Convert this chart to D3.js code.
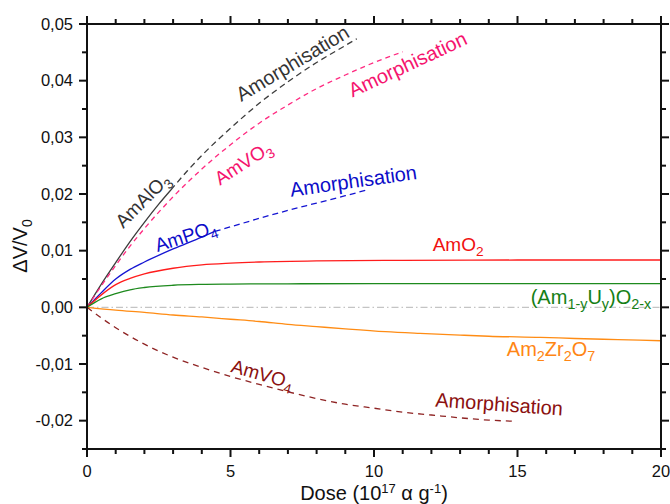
<!DOCTYPE html>
<html lang="en">
<head>
<meta charset="UTF-8">
<title>Swelling vs dose</title>
<script src="https://d3js.org/d3.v7.min.js"></script>
</head>
<body style="margin:0">
<svg width="670" height="504"></svg>
<script>
    // curves: [dose, dV/V0]
    const amAlO3Solid  = [[0,0],[0.5,0.0041],[1,0.0079],[1.5,0.0116],[2,0.0150],[2.5,0.0182],[2.92,0.0207]];
    const amAlO3Dashed = [[2.92,0.0207],[3.5,0.0241],[4,0.0268],[5,0.0316],[6,0.0360],[7,0.0398],[8,0.0432],[9,0.0462],[9.4,0.0474]];
    const amVO3Dashed  = [[0,0],[0.5,0.0038],[1,0.0074],[1.5,0.0108],[2,0.0139],[3,0.0195],[4,0.0244],[5,0.0287],[6,0.0325],[7,0.0357],[8,0.0386],[9,0.0410],[10,0.0432],[11,0.0451]];
    const amPO4Solid   = [[0,0],[0.5,0.0026],[1,0.0050],[1.5,0.0067],[2,0.0080],[3,0.0103],[4,0.0124],[4.45,0.0134]];
    const amPO4Dashed  = [[4.45,0.0134],[5,0.0142],[6,0.0157],[7,0.0171],[8,0.0184],[9,0.0197],[9.75,0.0207]];
    const amO2         = [[0,0],[0.5,0.0022],[1,0.0040],[1.5,0.0051],[2,0.0059],[3,0.0069],[4,0.0075],[5,0.0078],[6,0.0080],[8,0.0082],[11,0.0083],[15,0.00835],[20,0.00835]];
    const amUO2        = [[0,0],[0.5,0.0015],[1,0.0024],[1.5,0.0031],[2,0.0035],[3,0.0039],[4,0.00405],[5,0.0041],[7,0.00415],[10,0.0042],[20,0.0042]];
    const am2Zr2O7     = [[0,0],[1,-0.0005],[2,-0.0009],[3,-0.00135],[4,-0.0017],[5,-0.0021],[6,-0.0025],[7,-0.0030],[8,-0.0034],[9,-0.0038],[10.4,-0.0043],[11.6,-0.0046],[13,-0.0049],[14,-0.0051],[15.8,-0.0053],[17,-0.0055],[18.5,-0.0057],[20,-0.0059]];
    const amVO4Dashed  = [[0,0],[1,-0.0036],[2,-0.0065],[3,-0.0088],[4,-0.0106],[5,-0.0122],[6,-0.0136],[7,-0.0149],[8,-0.0161],[9,-0.0171],[10,-0.0178],[11,-0.0185],[12,-0.0190],[13,-0.0195],[14,-0.0199],[14.85,-0.0201]];
    const zeroLine     = [[0,0],[20,0]];

    const xTicks = [0, 5, 10, 15, 20];
    const yTicks = [-0.02, -0.01, 0, 0.01, 0.02, 0.03, 0.04, 0.05];

    const series = [
        {data: amAlO3Solid,  color: "#3c3c3c", dash: null},
        {data: amAlO3Dashed, color: "#3c3c3c", dash: "6,4"},
        {data: amVO3Dashed,  color: "#ff2a80", dash: "5,4"},
        {data: amPO4Solid,   color: "#1414d2", dash: null},
        {data: amPO4Dashed,  color: "#1414d2", dash: "6,4"},
        {data: amO2,         color: "#ff1c1c", dash: null},
        {data: amUO2,        color: "#1e8a1e", dash: null},
        {data: am2Zr2O7,     color: "#ff8c14", dash: null},
        {data: amVO4Dashed,  color: "#8f2424", dash: "6,5"}
    ];

    // text labels: position in data units, rotation, colour, pieces
    const labels = [
        {x: 1.93,  y: 0.0189,   rot: -45, size: 19, color: "#333333", parts: [["AmAlO"],["3","sub"]]},
        {x: 7.16,  y: 0.0431,   rot: -31, size: 20, color: "#333333", parts: [["Amorphisation"]]},
        {x: 5.44,  y: 0.0255,   rot: -33, size: 19, color: "#f5146e", parts: [["AmVO"],["3","sub"]]},
        {x: 11.17, y: 0.0429,   rot: -25, size: 20, color: "#f5146e", parts: [["Amorphisation"]]},
        {x: 3.44,  y: 0.0126,   rot: -18, size: 19, color: "#0c0cc8", parts: [["AmPO"],["4","sub"]]},
        {x: 9.28,  y: 0.0223,   rot: -8,  size: 20, color: "#0c0cc8", parts: [["Amorphisation"]]},
        {x: 12.93, y: 0.0112,   rot: 0,   size: 19, color: "#f01010", parts: [["AmO"],["2","sub"]]},
        {x: 17.56, y: 0.0019,   rot: 0,   size: 20, color: "#167f16", parts: [["(Am"],["1-y","sub"],["U"],["y","sub"],[")O"],["2-x","sub"]]},
        {x: 16.17, y: -0.0074,  rot: 0,   size: 20, color: "#ff8614", parts: [["Am"],["2","sub"],["Zr"],["2","sub"],["O"],["7","sub"]]},
        {x: 6.11,  y: -0.01177, rot: 16,  size: 19, color: "#8b1010", parts: [["AmVO"],["4","sub"]]},
        {x: 14.36, y: -0.01706, rot: 4,   size: 20, color: "#8b1010", parts: [["Amorphisation"]]}
    ];

    const FONT = "Liberation Sans, Arial, sans-serif";
    const svg = d3.select("svg");
    const margin = {top: 24, right: 9, bottom: 55, left: 87};

    // scales in page pixels
    const x = d3.scaleLinear().domain([0, 20]).range([margin.left, 670 - margin.right]);
    const y = d3.scaleLinear().domain([-0.025, 0.05]).range([504 - margin.bottom, margin.top]);
    const [x0, x1] = x.range();
    const [yb, yt0] = y.range();

    const fmt = d => d3.format(".2f")(d).replace(".", ",").replace("\u2212", "-");
    const minorX = d3.range(0, 21, 1);
    const minorY = d3.range(-25, 51, 5).map(v => v / 1000);
    const isMajX = d => xTicks.includes(d);
    const isMajY = d => yTicks.some(t => Math.abs(t - d) < 1e-9);
    const tickLen = maj => maj ? 8 : 5;

    // zero reference
    svg.append("path")
        .datum(zeroLine)
        .attr("d", d3.line().x(d => x(d[0])).y(d => y(d[1])))
        .attr("fill", "none")
        .attr("stroke", "#c4c4c4")
        .attr("stroke-width", 1.1)
        .attr("stroke-dasharray", "7,3,1.5,3");

    const line = d3.line().x(d => x(d[0])).y(d => y(d[1])).curve(d3.curveMonotoneX);

    svg.selectAll("path.curve")
        .data(series)
        .join("path").attr("class", "curve")
            .attr("d", d => line(d.data))
            .attr("fill", "none")
            .attr("stroke", d => d.color)
            .attr("stroke-width", 1.3)
            .attr("stroke-dasharray", d => d.dash);

    // frame
    svg.append("path")
        .attr("d", `M${x0},${yt0}H${x1}V${yb}H${x0}Z`)
        .attr("fill", "none").attr("stroke", "#111").attr("stroke-width", 2);

    // tick marks, outward on all four sides
    svg.selectAll("rect.bt").data(minorX).join("rect").attr("class", "bt")
        .attr("x", d => x(d) - 1).attr("y", yb).attr("width", 2)
        .attr("height", d => tickLen(isMajX(d))).attr("fill", "#111");
    svg.selectAll("rect.tt").data(minorX).join("rect").attr("class", "tt")
        .attr("x", d => x(d) - 1).attr("y", d => yt0 - tickLen(isMajX(d))).attr("width", 2)
        .attr("height", d => tickLen(isMajX(d))).attr("fill", "#111");
    svg.selectAll("rect.lt").data(minorY).join("rect").attr("class", "lt")
        .attr("x", d => x0 - tickLen(isMajY(d))).attr("y", d => y(d) - 1)
        .attr("width", d => tickLen(isMajY(d))).attr("height", 2).attr("fill", "#111");
    svg.selectAll("rect.rt").data(minorY).join("rect").attr("class", "rt")
        .attr("x", x1).attr("y", d => y(d) - 1)
        .attr("width", d => tickLen(isMajY(d))).attr("height", 2).attr("fill", "#111");

    // tick labels
    svg.selectAll("text.xl").data(xTicks).join("text").attr("class", "xl")
        .attr("x", d => x(d)).attr("y", yb + 28)
        .attr("text-anchor", "middle")
        .attr("font-family", FONT).attr("font-size", "16.5px").attr("fill", "#111")
        .text(d3.format("d"));
    svg.selectAll("text.yl").data(yTicks).join("text").attr("class", "yl")
        .attr("x", x0 - 14).attr("y", d => y(d)).attr("dy", "0.35em")
        .attr("text-anchor", "end")
        .attr("font-family", FONT).attr("font-size", "16.5px").attr("fill", "#111")
        .text(fmt);

    // curve labels
    labels.forEach(l => {
        const t = svg.append("text")
            .attr("transform", `translate(${x(l.x)},${y(l.y)}) rotate(${l.rot})`)
            .attr("text-anchor", "middle")
            .attr("dy", "0.35em")
            .attr("font-family", FONT)
            .attr("font-size", l.size + "px")
            .attr("fill", l.color);
        l.parts.forEach(p => {
            const s = t.append("tspan").text(p[0]);
            if (p[1] === "sub") s.attr("font-size", (l.size * 0.72) + "px").attr("baseline-shift", "-5");
        });
    });

    // axis titles
    const xt = svg.append("text")
        .attr("x", x(10))
        .attr("y", 500)
        .attr("text-anchor", "middle")
        .attr("font-family", FONT)
        .attr("font-size", "20px")
        .attr("fill", "#111");
    xt.append("tspan").text("Dose (10");
    xt.append("tspan").text("17").attr("font-size", "13px").attr("baseline-shift", "7");
    xt.append("tspan").text(" \u03b1 g");
    xt.append("tspan").text("-1").attr("font-size", "13px").attr("baseline-shift", "7");
    xt.append("tspan").text(")");

    const ytl = svg.append("text")
        .attr("transform", "translate(27,246) rotate(-90)")
        .attr("text-anchor", "middle")
        .attr("font-family", FONT)
        .attr("font-size", "20px")
        .attr("fill", "#111");
    ytl.append("tspan").text("\u0394V/V");
    ytl.append("tspan").text("0").attr("font-size", "14px").attr("baseline-shift", "-5");
</script>
</body>
</html>
